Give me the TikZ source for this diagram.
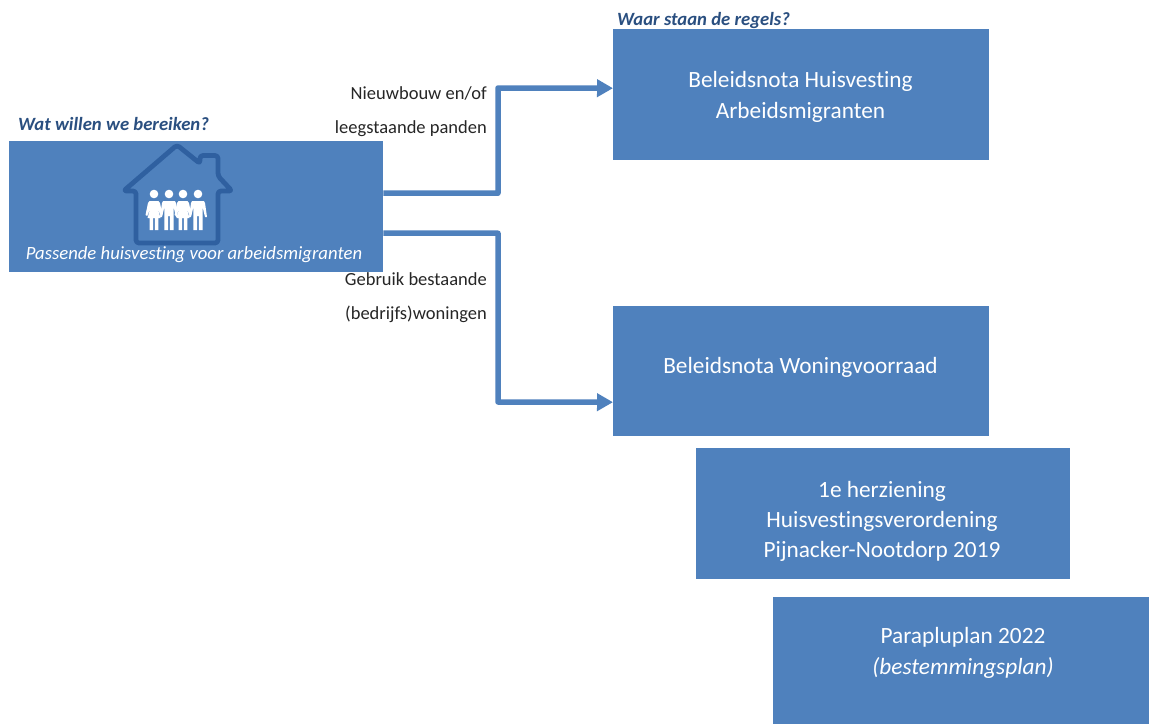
\documentclass[tikz,border=0pt]{standalone}
\usepackage{fontspec}
\setmainfont[RawFeature={-liga;-clig;-dlig}]{Carlito}
\usetikzlibrary{arrows.meta,positioning}
\definecolor{boxblue}{HTML}{4F81BD}
\definecolor{housedark}{HTML}{2F60A0}
\definecolor{headblue}{HTML}{2A4F80}
\definecolor{labelgrey}{HTML}{262626}
\tikzset{
  x=1pt,y=-1pt,
  bluebox/.style={fill=boxblue,draw=none,inner sep=0pt,anchor=north west},
  boxtext/.style={anchor=center,text=white,align=center,inner sep=0pt,font=\fontsize{23.3}{31}\selectfont},
  flow/.style={draw=boxblue,line width=5.5pt,line join=round,-{Triangle[length=16pt,width=17pt]}},
  heading/.style={font=\fontsize{18.7}{20}\selectfont\bfseries\itshape,text=headblue,inner sep=0pt,anchor=west},
  edgelabel/.style={font=\fontsize{18.5}{34}\selectfont,text=labelgrey,align=right,inner sep=0pt,anchor=east},
  housepen/.style={draw=housedark,line width=4.8pt,rounded corners=3pt,line join=round},
  person/.style={fill=white,draw=none}
}
\newcommand{\manfig}[1]{%
  \fill[person] (#1,194) circle (4.3);
  \fill[person] (#1-6,201) -- (#1+6,201) -- (#1+7,203) -- (#1+9,217) -- (#1+7,217) -- (#1+4.6,207) -- (#1+4.6,230) -- (#1+0.8,230) -- (#1+0.8,216) -- (#1-0.8,216) -- (#1-0.8,230) -- (#1-4.6,230) -- (#1-4.6,207) -- (#1-7,217) -- (#1-9,217) -- (#1-7,203) -- cycle;}
\newcommand{\womanfig}[1]{%
  \fill[person] (#1,194) circle (4.3);
  \fill[person] (#1-4.5,201) -- (#1+4.5,201) -- (#1+6,203) -- (#1+8.5,215) -- (#1+6.8,216) -- (#1+3.2,207) -- (#1+6.5,218) -- (#1+4.4,218) -- (#1+4.4,230) -- (#1+0.8,230) -- (#1+0.8,218) -- (#1-0.8,218) -- (#1-0.8,230) -- (#1-4.4,230) -- (#1-4.4,218) -- (#1-6.5,218) -- (#1-3.2,207) -- (#1-6.8,216) -- (#1-8.5,215) -- (#1-6,203) -- cycle;}
\begin{document}
\begin{tikzpicture}
\useasboundingbox (0,0) rectangle (1150,724);
\fill[white] (0,0) rectangle (1150,724);

\node[bluebox,minimum width=374pt,minimum height=131pt] (src) at (9,141) {};
\node[bluebox,minimum width=376pt,minimum height=131pt] (r1) at (613,29) {};
\node[bluebox,minimum width=376pt,minimum height=130pt] (r2) at (613,306) {};
\node[bluebox,minimum width=374pt,minimum height=131pt] (r3) at (696,448) {};
\node[bluebox,minimum width=376pt,minimum height=127pt] (r4) at (773,597) {};

\node[boxtext] (t1) at (800.5,97) {Beleidsnota Huisvesting\\Arbeidsmigranten};
\node[boxtext] (t2) at (800.5,367) {Beleidsnota Woningvoorraad};
\node[boxtext,font=\fontsize{23.3}{30}\selectfont] (t3) at (882,521) {1e herziening\\Huisvestingsverordening\\Pijnacker-Nootdorp 2019};
\node[boxtext] (t4) at (963,653) {Parapluplan 2022\\\textit{(bestemmingsplan)}};

% house
\draw[housepen] (136,191) -- (123.5,191) -- (177,145) -- (200,163.5) -- (200,155.5) -- (218,155.5) -- (218,176) -- (232,191) -- (218,191) -- (218,243) -- (136,243) -- cycle;
\womanfig{154}
\manfig{169}
\womanfig{183}
\manfig{198}

\node[anchor=center,text=white,font=\fontsize{18.7}{20}\selectfont\itshape,inner sep=0pt] (t0) at (194,255) {Passende huisvesting voor arbeidsmigranten};

\node[heading] (h1) at (18,124) {Wat willen we bereiken?};
\node[heading] (h2) at (617,21) {Waar staan de regels?};

\node[edgelabel] (l1) at (487,112) {Nieuwbouw en/of\\leegstaande panden};
\node[edgelabel] (l2) at (487,298) {Gebruik bestaande\\(bedrijfs)woningen};

\coordinate (bendA) at (498,88);
\coordinate (bendB) at (498,402);
\draw[flow] ([yshift=13.5pt]src.east) -| (bendA) -- ([yshift=6.5pt]r1.west);
\draw[flow] ([yshift=-26.5pt]src.east) -| (bendB) -- ([yshift=-31pt]r2.west);
\end{tikzpicture}
\end{document}
